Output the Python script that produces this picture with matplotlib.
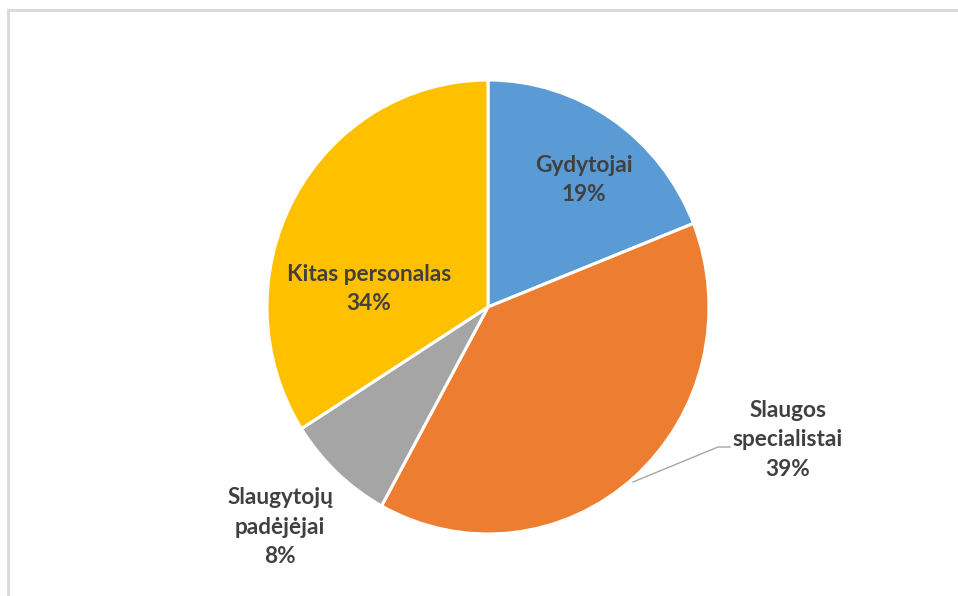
import matplotlib
matplotlib.use("Agg")
import matplotlib.pyplot as plt
from matplotlib.patches import Rectangle

# data
labels = ["Gydytojai", "Slaugos\nspecialistai", "Slaugytojų\npadėjėjai", "Kitas personalas"]
shares = [19, 39, 8, 34]
colors = ["#5B9BD5", "#ED7D31", "#A5A5A5", "#FFC000"]

W, H = 958, 596
fig = plt.figure(figsize=(W / 100, H / 100), dpi=100)

# pie box in pixels (left, top, right, bottom) - the original is a bit taller than wide
pl, pt, pr, pb = 267, 80, 709, 534
pax = fig.add_axes([pl / W, (H - pb) / H, (pr - pl) / W, (pb - pt) / H])
pax.pie(shares, colors=colors, startangle=90, counterclock=False, radius=1,
        wedgeprops=dict(edgecolor="white", linewidth=2.2))
pax.set_aspect("auto")
pax.set_xlim(-1, 1)
pax.set_ylim(-1, 1)
pax.axis("off")

# overlay in pixel coords for labels
ax = fig.add_axes([0, 0, 1, 1])
ax.set_xlim(0, W)
ax.set_ylim(0, H)
ax.axis("off")

pos = [(584, 180), (788, 440), (280, 527), (369, 289)]
font = dict(family=["Lato", "DejaVu Sans"], fontsize=16.3, fontweight="bold",
            color="#404040", ha="center", va="center", linespacing=1.48)
for lab, v, (px, py) in zip(labels, shares, pos):
    ax.text(px, H - py, f"{lab}\n{v}%", **font)

# leader line for Slaugos specialistai
ax.plot([633, 718, 730], [H - 482, H - 447, H - 447], color="#A6A6A6", lw=1)

# chart area border
fig.patches.append(Rectangle((8 / W, -0.1), 1.2, (H - 10) / H + 0.1,
                             transform=fig.transFigure, fill=False,
                             edgecolor="#D9D9D9", lw=2))

fig.savefig("out.png", dpi=100)
